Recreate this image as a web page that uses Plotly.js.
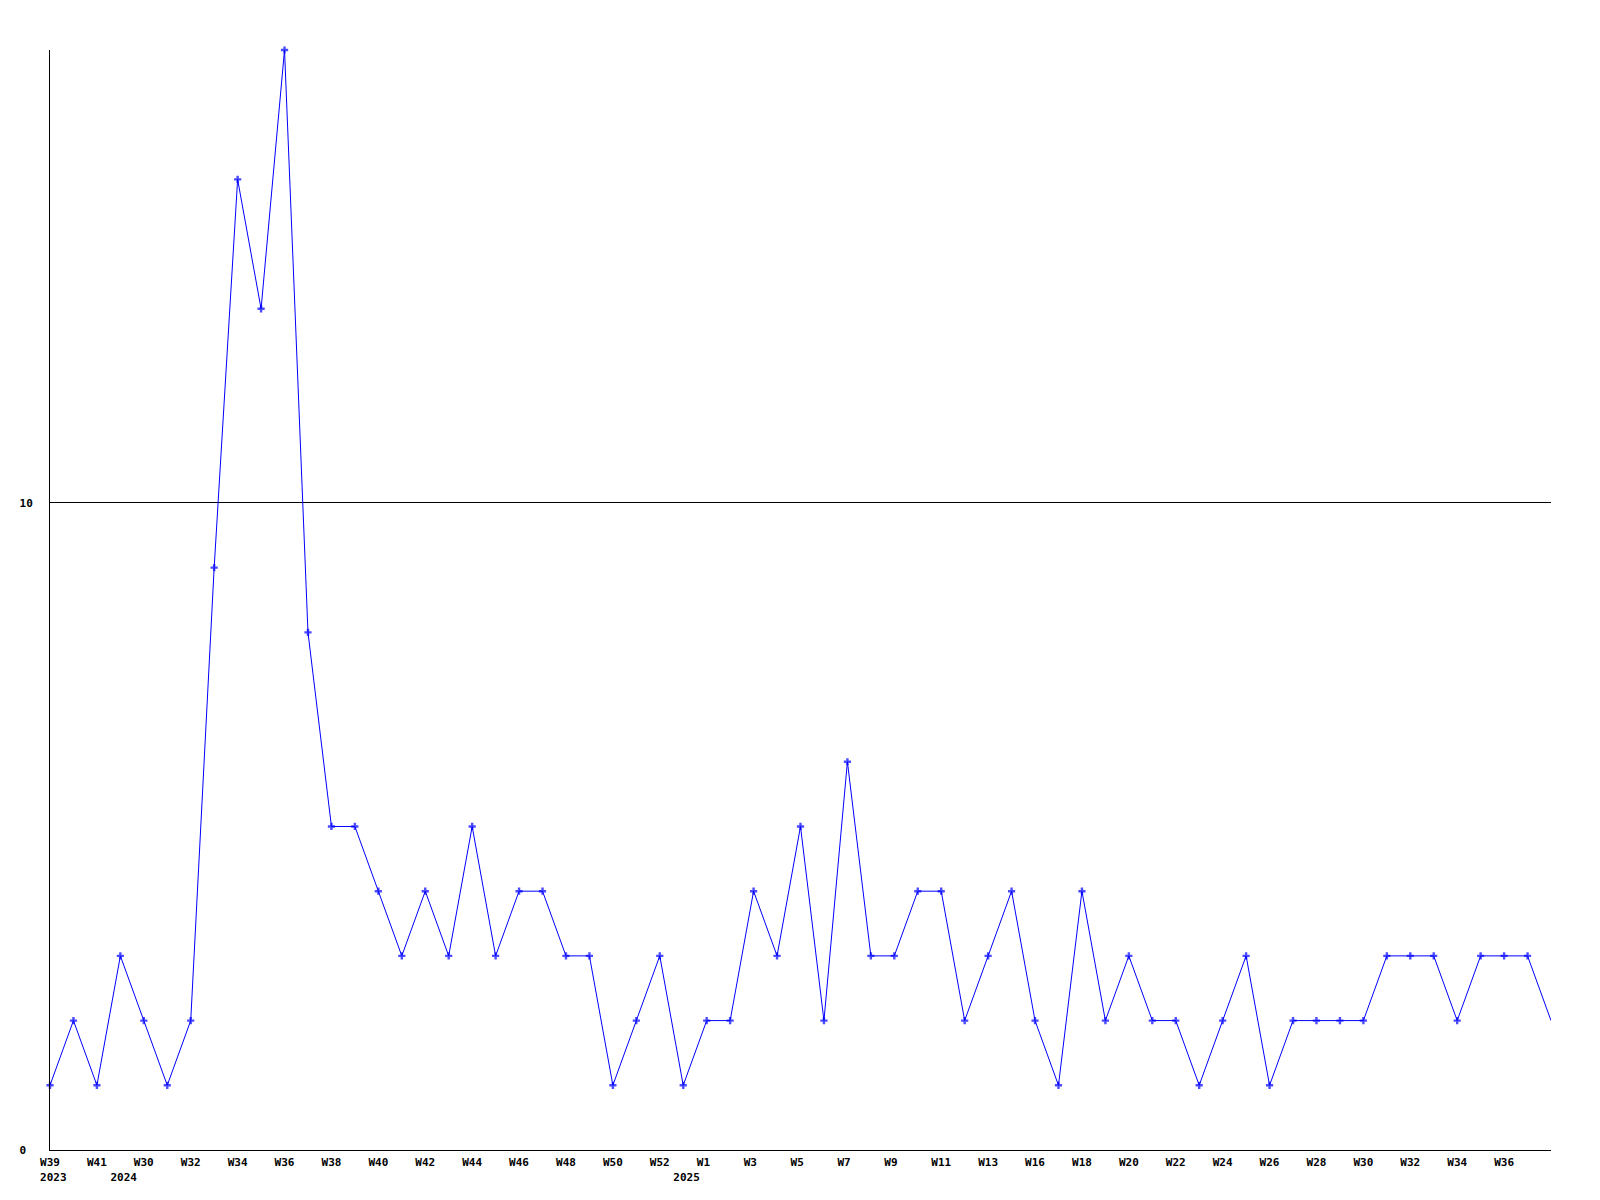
<!DOCTYPE html>
<html>
<head>
<meta charset="utf-8">
<script src="https://cdn.plot.ly/plotly-3.0.1.min.js"></script>
<style>html,body{margin:0;padding:0;background:#fff;}#chart{width:1600px;height:1200px;}</style>
</head>
<body>
<div id="chart"></div>
<script>
// Weekly values, one per week, in order (65 weeks)
const values = [
  1, 2, 1, 3, 2, 1, 2, 9, 15, 13, 17, 8, 5, 5, 4, 3, 4, 3, 5, 3,
  4, 4, 3, 3, 1, 2, 3, 1, 2, 2, 4, 3, 5, 2, 6, 3, 3, 4, 4, 2,
  3, 4, 2, 1, 4, 2, 3, 2, 2, 1, 2, 3, 1, 2, 2, 2, 2, 3, 3, 3,
  2, 3, 3, 3, 2
];
// Week labels shown on every second week, starting with the first week
const weekTickLabels = [
  'W39', 'W41', 'W30', 'W32', 'W34', 'W36', 'W38', 'W40', 'W42', 'W44',
  'W46', 'W48', 'W50', 'W52', 'W1', 'W3', 'W5', 'W7', 'W9', 'W11',
  'W13', 'W16', 'W18', 'W20', 'W22', 'W24', 'W26', 'W28', 'W30', 'W32',
  'W34', 'W36'
];
// Year labels and the week (index) where each year starts
const yearLabels = ['2023', '2024', '2025'];
const yearStartWeek = [0, 3, 27];
// Y axis ticks
const yTickValues = [0, 10];

const xs = values.map((v, i) => i);
const tickvals = [];
const ticktext = [];
for (let i = 0; i < values.length; i++) {
  let line1 = '';
  if (i % 2 === 0 && i / 2 < weekTickLabels.length) line1 = weekTickLabels[i / 2].padEnd(3, '\u00a0');
  const yi = yearStartWeek.indexOf(i);
  let t = line1;
  if (yi >= 0) t = line1 + '<br>\u00a0' + yearLabels[yi];
  if (t !== '') { tickvals.push(i); ticktext.push(t); }
}
const markerSizes = values.map((v, i) => (i === values.length - 1 ? 0 : 6));

const tickFont = {family: 'DejaVu Sans Mono', size: 11, color: '#000', weight: 'bold'};

Plotly.newPlot('chart', [{
  x: xs,
  y: values,
  type: 'scatter',
  mode: 'lines+markers',
  line: {color: '#0000ff', width: 1},
  marker: {symbol: 'cross', size: markerSizes, color: '#0000ff', line: {width: 0}},
  cliponaxis: false,
  hoverinfo: 'skip'
}], {
  width: 1600,
  height: 1200,
  margin: {l: 50, r: 49, t: 50, b: 50},
  paper_bgcolor: '#fff',
  plot_bgcolor: '#fff',
  showlegend: false,
  xaxis: {
    range: [0, values.length - 1],
    tickmode: 'array',
    tickvals: tickvals,
    ticktext: ticktext,
    tickangle: 0,
    tickfont: tickFont,
    showline: true,
    linecolor: '#000',
    linewidth: 1,
    showgrid: false,
    zeroline: false,
    ticks: '',
    ticklabelstandoff: 2,
    fixedrange: true
  },
  yaxis: {
    range: [0, 17],
    tickmode: 'array',
    tickvals: yTickValues,
    ticktext: yTickValues.map(v => String(v).padEnd(2, '\u00a0')),
    tickfont: tickFont,
    showline: true,
    linecolor: '#000',
    linewidth: 1,
    showgrid: true,
    gridcolor: '#000',
    gridwidth: 1,
    zeroline: false,
    ticks: '',
    ticklabelstandoff: 14,
    fixedrange: true
  }
}, {staticPlot: true});
</script>
</body>
</html>
